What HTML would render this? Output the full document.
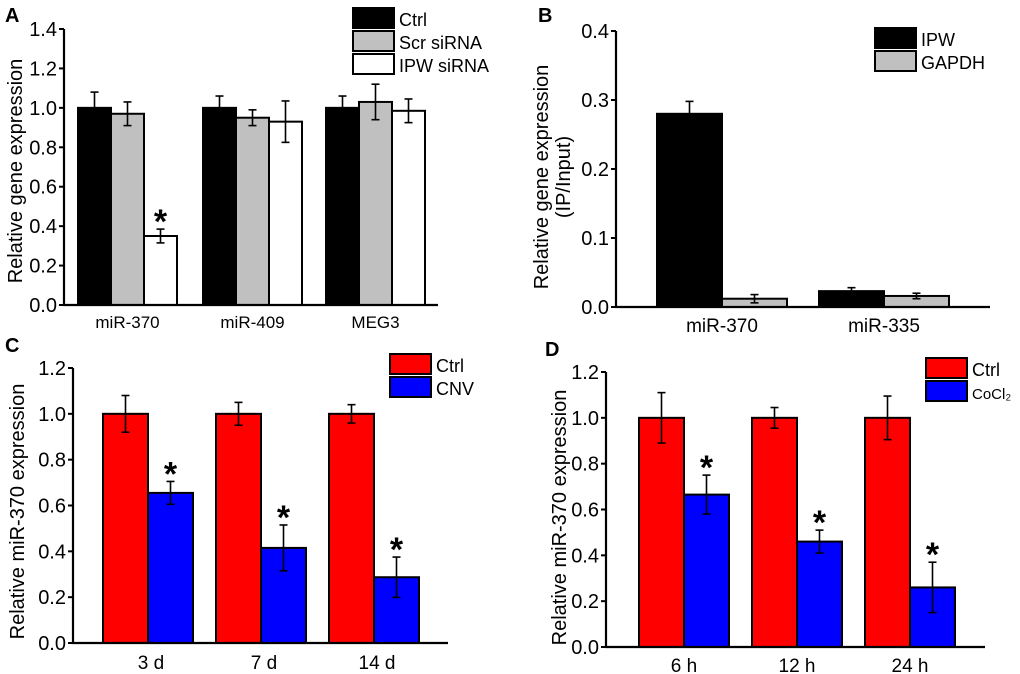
<!DOCTYPE html>
<html><head><meta charset="utf-8">
<style>
html,body{margin:0;padding:0;background:#fff;}
svg{display:block;font-family:"Liberation Sans",Arial,sans-serif;}
</style></head>
<body>
<svg id="fig" width="1020" height="674" viewBox="0 0 1020 674"></svg>
<script>
// Panel A data
const aCategories = ["miR-370","miR-409","MEG3"];
const aSeries = ["Ctrl","Scr siRNA","IPW siRNA"];
const aCtrl = [1.0, 1.0, 1.0];
const aCtrlErr = [0.08, 0.06, 0.06];
const aScr = [0.97, 0.95, 1.03];
const aScrErr = [0.06, 0.04, 0.09];
const aIpw = [0.35, 0.93, 0.985];
const aIpwErr = [0.035, 0.105, 0.06];
const aIpwStars = [true, false, false];
const aTicks = ["0.0","0.2","0.4","0.6","0.8","1.0","1.2","1.4"];
// Panel B data
const bCategories = ["miR-370","miR-335"];
const bSeries = ["IPW","GAPDH"];
const bIpw = [0.28, 0.023];
const bIpwErr = [0.018, 0.005];
const bGapdh = [0.012, 0.016];
const bGapdhErr = [0.006, 0.004];
const bTicks = ["0.0","0.1","0.2","0.3","0.4"];
// Panel C data
const cCategories = ["3 d","7 d","14 d"];
const cSeries = ["Ctrl","CNV"];
const cCtrl = [1.0, 1.0, 1.0];
const cCtrlErr = [0.08, 0.05, 0.04];
const cCnv = [0.655, 0.415, 0.287];
const cCnvErr = [0.05, 0.1, 0.088];
const cCnvStars = [true, true, true];
const cTicks = ["0.0","0.2","0.4","0.6","0.8","1.0","1.2"];
// Panel D data
const dCategories = ["6 h","12 h","24 h"];
const dSeries = ["Ctrl","CoCl\u2082"];
const dCtrl = [1.0, 1.0, 1.0];
const dCtrlErr = [0.11, 0.045, 0.095];
const dCo = [0.665, 0.46, 0.26];
const dCoErr = [0.085, 0.05, 0.11];
const dCoStars = [true, true, true];
const dTicks = ["0.0","0.2","0.4","0.6","0.8","1.0","1.2"];

const NS="http://www.w3.org/2000/svg";
const svg=document.getElementById('fig');
function mk(tag,attrs,parent){const e=document.createElementNS(NS,tag);for(const k in attrs)e.setAttribute(k,attrs[k]);(parent||svg).appendChild(e);return e;}

function panel(o){
  const g=mk('g',{});
  
  
  const ymax=parseFloat(o.ticks[o.ticks.length-1]);
  const y=v=>o.y0-(v/ymax)*(o.y0-o.yTop);
  const L=mk('text',{x:o.letterX,y:o.letterY,'font-size':20,'font-weight':'bold'},g);L.textContent=o.letter;
  
  
  o.series.forEach((s,si)=>{
    s.vals.forEach((v,ci)=>{
      const x=o.groupX[ci]+si*o.bw;
      const r=mk('rect',{x:x,y:y(v),width:o.bw,height:o.y0-y(v),fill:s.color,stroke:'#000','stroke-width':2},g);
      
      
      const e=s.err[ci], cx=x+o.bw/2;
      const eg=mk('g',{stroke:'#000','stroke-width':1.6},g);
      
      
      mk('line',{x1:cx,x2:cx,y1:y(v+e),y2:y(Math.max(v-e,0))},eg);
      mk('line',{x1:cx-4,x2:cx+4,y1:y(v+e),y2:y(v+e)},eg);
      mk('line',{x1:cx-4,x2:cx+4,y1:y(Math.max(v-e,0)),y2:y(Math.max(v-e,0))},eg);
      if(s.stars && s.stars[ci]){
        const t=mk('text',{x:cx,y:y(v+e)+4,'font-size':34,'font-weight':'bold','text-anchor':'middle'},g);t.textContent='*';
        
        
      }
    });
  });
  const ax=mk('path',{d:`M${o.x0},${o.yTop} V${o.y0} H${o.xEnd}`,fill:'none',stroke:'#000','stroke-width':2.2},g);
  
  
  o.ticks.forEach(t=>{
    const yy=y(parseFloat(t));
    mk('line',{x1:o.x0-5,x2:o.x0,y1:yy,y2:yy,stroke:'#000','stroke-width':2},g);
    const tx=mk('text',{x:o.x0-7,y:yy+7,'font-size':20,'text-anchor':'end'},g);tx.textContent=t;
    
    
  });
  o.cats.forEach((c,ci)=>{
    const cx=o.groupX[ci]+o.series.length*o.bw/2+(o.catShift||0);
    const t=mk('text',{x:cx,y:o.catY,'font-size':o.catSize||17,'text-anchor':'middle'},g);t.textContent=c;
    
    
  });
  o.ytitle.forEach((line,i)=>{
    const tx=o.ytitleX+i*22, ty=(o.y0+o.yTop)/2+(o.ytitleDy||0);
    const t=mk('text',{x:tx,y:ty,'font-size':20,'text-anchor':'middle',transform:`rotate(-90 ${tx} ${ty})`},g);t.textContent=line;
    
    
  });
  o.series.forEach((s,si)=>{
    const ly=o.legY+si*o.legStep;
    const r=mk('rect',{x:o.legX,y:ly,width:41,height:o.legH,fill:s.color,stroke:'#000','stroke-width':2},g);
    
    
    const t=mk('text',{x:o.legX+46,y:ly+o.legH-2,'font-size':s.legSize||18},g);t.textContent=s.label;
    
    
  });
}

panel({name:'panel-a',letter:'A',letterX:5,letterY:22,x0:64,xEnd:438,y0:305,yTop:29,ticks:aTicks,bw:33,
  groupX:[78,203,326],cats:aCategories,catY:328,catSize:17,
  series:[{label:aSeries[0],vals:aCtrl,err:aCtrlErr,color:'#000'},
          {label:aSeries[1],vals:aScr,err:aScrErr,color:'#c0c0c0'},
          {label:aSeries[2],vals:aIpw,err:aIpwErr,color:'#fff',stars:aIpwStars}],
  ytitle:['Relative gene expression'],ytitleX:22,ytitleDy:4,legX:353,legY:8,legStep:23,legH:20});
panel({name:'panel-b',letter:'B',letterX:538,letterY:22,x0:616,xEnd:990,y0:307,yTop:31,ticks:bTicks,bw:65,
  groupX:[657,819],cats:bCategories,catY:332,catSize:19,
  series:[{label:bSeries[0],vals:bIpw,err:bIpwErr,color:'#000'},
          {label:bSeries[1],vals:bGapdh,err:bGapdhErr,color:'#c0c0c0'}],
  ytitle:['Relative gene expression','(IP/Input)'],ytitleX:548,ytitleDy:8,legX:875,legY:28,legStep:23,legH:20});
panel({name:'panel-c',letter:'C',letterX:5,letterY:352,x0:73,xEnd:448,y0:643,yTop:368,ticks:cTicks,bw:45,
  groupX:[103,216,329],cats:cCategories,catY:669,catSize:19,catShift:3,
  series:[{label:cSeries[0],vals:cCtrl,err:cCtrlErr,color:'#ff0000'},
          {label:cSeries[1],vals:cCnv,err:cCnvErr,color:'#0000ff',stars:cCnvStars}],
  ytitle:['Relative miR-370 expression'],ytitleX:24,ytitleDy:6,legX:390,legY:354,legStep:23,legH:20});
panel({name:'panel-d',letter:'D',letterX:545,letterY:356,x0:606,xEnd:985,y0:647,yTop:372,ticks:dTicks,bw:45,
  groupX:[639,752,865],cats:dCategories,catY:672,catSize:19,
  series:[{label:dSeries[0],vals:dCtrl,err:dCtrlErr,color:'#ff0000'},
          {label:dSeries[1],vals:dCo,err:dCoErr,color:'#0000ff',stars:dCoStars,legSize:15}],
  ytitle:['Relative miR-370 expression'],ytitleX:566,ytitleDy:8,legX:926,legY:358,legStep:23,legH:20});
</script>
</body></html>
